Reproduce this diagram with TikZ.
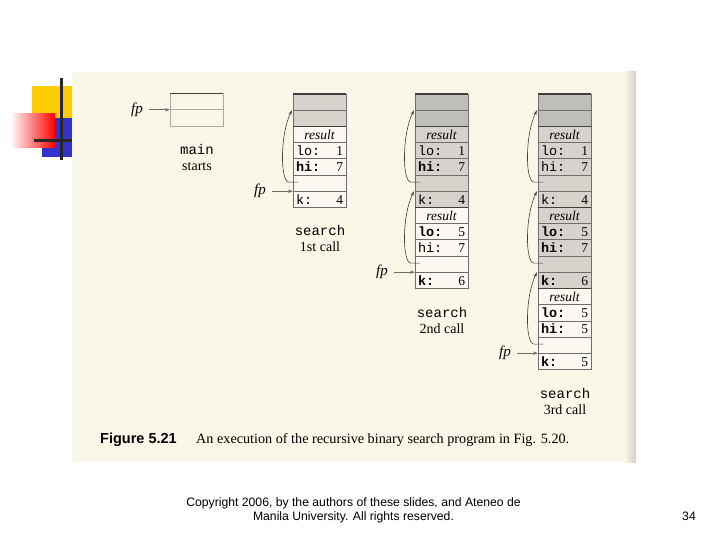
\documentclass[tikz,border=0pt]{standalone}
\usepackage{fontspec}
\setmainfont{Liberation Serif}
\setsansfont{Liberation Sans}
\setmonofont{Liberation Mono}
\usepackage{tikz}
\usetikzlibrary{positioning,arrows.meta}
\definecolor{paper}{RGB}{250,246,232}
\definecolor{paperedge}{RGB}{214,208,196}
\definecolor{cellwhite}{RGB}{251,249,242}
\definecolor{shadeA}{RGB}{214,211,204}
\definecolor{shadeB}{RGB}{192,190,185}
\definecolor{rulegray}{RGB}{110,110,108}
\definecolor{slideyellow}{RGB}{255,204,0}
\definecolor{slideblue}{RGB}{51,51,204}
\tikzset{
  cell/.style={draw=rulegray, fill=cellwhite, line width=0.6pt, minimum width=53pt, minimum height=16.2pt, text width=47pt, inner xsep=3pt, inner ysep=0pt, outer sep=0pt, align=left, font=\fontsize{13.5}{14}\selectfont},
  cellA/.style={cell, fill=shadeA},
  cellB/.style={cell, fill=shadeB},
  rescell/.style={align=center, font=\fontsize{13.5}{14}\selectfont\itshape},
  framerule/.style={line width=1.6pt, draw=black!75},
  fplabel/.style={font=\fontsize{15}{15}\selectfont\itshape, inner sep=1pt},
  fparrow/.style={-{Stealth[length=5pt,width=3.5pt]}, line width=0.7pt, draw=rulegray, shorten <=5pt},
  linkarrow/.style={-{Stealth[length=5pt,width=3pt]}, line width=0.6pt, draw=black!75},
  stacklabel/.style={align=center, font=\fontsize{14}{16}\selectfont},
  footer/.style={font=\sffamily\fontsize{12.2}{14}\selectfont, align=center}
}

\begin{document}
\begin{tikzpicture}[x=1pt, y=-1pt]
  \useasboundingbox (0,0) rectangle (720,540);
  % slide decoration
  \fill[slideyellow] (32,86) rectangle (72,118);
  \fill[slideblue] (42,118) rectangle (72,157);
  \shade[left color=white, right color=red] (10,114) rectangle (55,148);
  \draw[line width=3pt, black!85] (61,78) -- (61,160);
  \draw[line width=3pt, black!85] (34,141) -- (72,141);
  % scanned page
  \fill[paper] (72,72) rectangle (636,462);
  \shade[left color=paper, right color=paperedge] (624,72) rectangle (636,462);

  % main
  \node[cell, fill=none, draw=rulegray!60] (m0) at (196.5,101.7) {};
  \node[cell, fill=none, draw=rulegray!60, below=0pt of m0] (m1) {};
  \draw[framerule] (m0.north west) -- (m0.north east);
  \node[fplabel, left=26pt of m1.north west] (fp0) {fp};
  \draw[fparrow] (fp0) -- (m1.north west);
  \node[stacklabel] (lab0) at (197,157) {\texttt{main}\\starts};

  % search, 1st call
  \node[cellA] (c1top) at (319.5,102.1) {};
  \node[cellA, below=0pt of c1top] (c1mid) {};
  \node[cell, rescell, below=0pt of c1mid] (c1res1) {result};
  \node[cell, below=0pt of c1res1] (c1lo1) {\texttt{lo:}\hfill 1};
  \node[cell, below=0pt of c1lo1] (c1hi1) {\texttt{\bfseries hi:}\hfill 7};
  \node[cell, below=0pt of c1hi1] (c1gap1) {};
  \node[cell, below=0pt of c1gap1] (c1k1) {\texttt{k:}\hfill 4};
  \draw[framerule] (c1top.north west) -- (c1top.north east);
  \draw[framerule] (c1res1.north west) -- (c1res1.north east);
  \node[fplabel, left=26pt of c1k1.north west] (fp1) {fp};
  \draw[fparrow] (fp1) -- (c1k1.north west);
  \draw[linkarrow] ([xshift=5pt,yshift=1pt]c1gap1.west) -- ([xshift=-4pt,yshift=1pt]c1gap1.west)
    .. controls ([xshift=-13pt,yshift=1pt]c1gap1.west) and ([xshift=-13pt,yshift=-24pt]c1mid.north west) .. ([xshift=-1pt]c1mid.north west);
  \node[stacklabel] (lab1) at (320,238) {\texttt{search}\\1st call};

  % search, 2nd call
  \node[cellB] (c2top) at (441.5,102.1) {};
  \node[cellB, below=0pt of c2top] (c2mid) {};
  \node[cellA, rescell, below=0pt of c2mid] (c2res1) {result};
  \node[cellA, below=0pt of c2res1] (c2lo1) {\texttt{lo:}\hfill 1};
  \node[cellA, below=0pt of c2lo1] (c2hi1) {\texttt{\bfseries hi:}\hfill 7};
  \node[cellA, below=0pt of c2hi1] (c2gap1) {};
  \node[cellA, below=0pt of c2gap1] (c2k1) {\texttt{k:}\hfill 4};
  \node[cell, rescell, below=0pt of c2k1] (c2res2) {result};
  \node[cell, below=0pt of c2res2] (c2lo2) {\texttt{\bfseries lo:}\hfill 5};
  \node[cell, below=0pt of c2lo2] (c2hi2) {\texttt{hi:}\hfill 7};
  \node[cell, below=0pt of c2hi2] (c2gap2) {};
  \node[cell, below=0pt of c2gap2] (c2k2) {\texttt{\bfseries k:}\hfill 6};
  \draw[framerule] (c2top.north west) -- (c2top.north east);
  \draw[framerule] (c2res1.north west) -- (c2res1.north east);
  \draw[framerule] (c2res2.north west) -- (c2res2.north east);
  \node[fplabel, left=26pt of c2k2.north west] (fp2) {fp};
  \draw[fparrow] (fp2) -- (c2k2.north west);
  \draw[linkarrow] ([xshift=5pt,yshift=1pt]c2gap1.west) -- ([xshift=-4pt,yshift=1pt]c2gap1.west)
    .. controls ([xshift=-13pt,yshift=1pt]c2gap1.west) and ([xshift=-13pt,yshift=-24pt]c2mid.north west) .. ([xshift=-1pt]c2mid.north west);
  \draw[linkarrow] ([xshift=5pt,yshift=1pt]c2gap2.west) -- ([xshift=-4pt,yshift=1pt]c2gap2.west)
    .. controls ([xshift=-13pt,yshift=1pt]c2gap2.west) and ([xshift=-13pt,yshift=-24pt]c2k1.north west) .. ([xshift=-1pt]c2k1.north west);
  \node[stacklabel] (lab2) at (442,320) {\texttt{search}\\2nd call};

  % search, 3rd call
  \node[cellB] (c3top) at (564.5,102.1) {};
  \node[cellB, below=0pt of c3top] (c3mid) {};
  \node[cellA, rescell, below=0pt of c3mid] (c3res1) {result};
  \node[cellA, below=0pt of c3res1] (c3lo1) {\texttt{lo:}\hfill 1};
  \node[cellA, below=0pt of c3lo1] (c3hi1) {\texttt{hi:}\hfill 7};
  \node[cellA, below=0pt of c3hi1] (c3gap1) {};
  \node[cellA, below=0pt of c3gap1] (c3k1) {\texttt{k:}\hfill 4};
  \node[cellA, rescell, below=0pt of c3k1] (c3res2) {result};
  \node[cellA, below=0pt of c3res2] (c3lo2) {\texttt{\bfseries lo:}\hfill 5};
  \node[cellA, below=0pt of c3lo2] (c3hi2) {\texttt{\bfseries hi:}\hfill 7};
  \node[cellA, below=0pt of c3hi2] (c3gap2) {};
  \node[cellA, below=0pt of c3gap2] (c3k2) {\texttt{\bfseries k:}\hfill 6};
  \node[cell, rescell, below=0pt of c3k2] (c3res3) {result};
  \node[cell, below=0pt of c3res3] (c3lo3) {\texttt{\bfseries lo:}\hfill 5};
  \node[cell, below=0pt of c3lo3] (c3hi3) {\texttt{\bfseries hi:}\hfill 5};
  \node[cell, below=0pt of c3hi3] (c3gap3) {};
  \node[cell, below=0pt of c3gap3] (c3k3) {\texttt{\bfseries k:}\hfill 5};
  \draw[framerule] (c3top.north west) -- (c3top.north east);
  \draw[framerule] (c3res1.north west) -- (c3res1.north east);
  \draw[framerule] (c3res2.north west) -- (c3res2.north east);
  \draw[framerule] (c3res3.north west) -- (c3res3.north east);
  \node[fplabel, left=26pt of c3k3.north west] (fp3) {fp};
  \draw[fparrow] (fp3) -- (c3k3.north west);
  \draw[linkarrow] ([xshift=5pt,yshift=1pt]c3gap1.west) -- ([xshift=-4pt,yshift=1pt]c3gap1.west)
    .. controls ([xshift=-13pt,yshift=1pt]c3gap1.west) and ([xshift=-13pt,yshift=-24pt]c3mid.north west) .. ([xshift=-1pt]c3mid.north west);
  \draw[linkarrow] ([xshift=5pt,yshift=1pt]c3gap2.west) -- ([xshift=-4pt,yshift=1pt]c3gap2.west)
    .. controls ([xshift=-13pt,yshift=1pt]c3gap2.west) and ([xshift=-13pt,yshift=-24pt]c3k1.north west) .. ([xshift=-1pt]c3k1.north west);
  \draw[linkarrow] ([xshift=5pt,yshift=1pt]c3gap3.west) -- ([xshift=-4pt,yshift=1pt]c3gap3.west)
    .. controls ([xshift=-13pt,yshift=1pt]c3gap3.west) and ([xshift=-13pt,yshift=-24pt]c3k2.north west) .. ([xshift=-1pt]c3k2.north west);
  \node[stacklabel] (lab3) at (565,401) {\texttt{search}\\3rd call};

  % caption and slide footer
  \node[anchor=base west, inner sep=0pt, font=\sffamily\bfseries\fontsize{14.5}{16}\selectfont] (fignum) at (100,443) {Figure 5.21};
  \node[anchor=base west, inner sep=0pt, font=\fontsize{14.2}{16}\selectfont] (figtext) at (196,443) {An execution of the recursive binary search program in Fig. 5.20.};
  \node[footer] (copy) at (353.5,510) {Copyright 2006, by the authors of these slides, and Ateneo de\\Manila University. All rights reserved.};
  \node[footer] (pageno) at (689,516) {34};
\end{tikzpicture}
\end{document}
